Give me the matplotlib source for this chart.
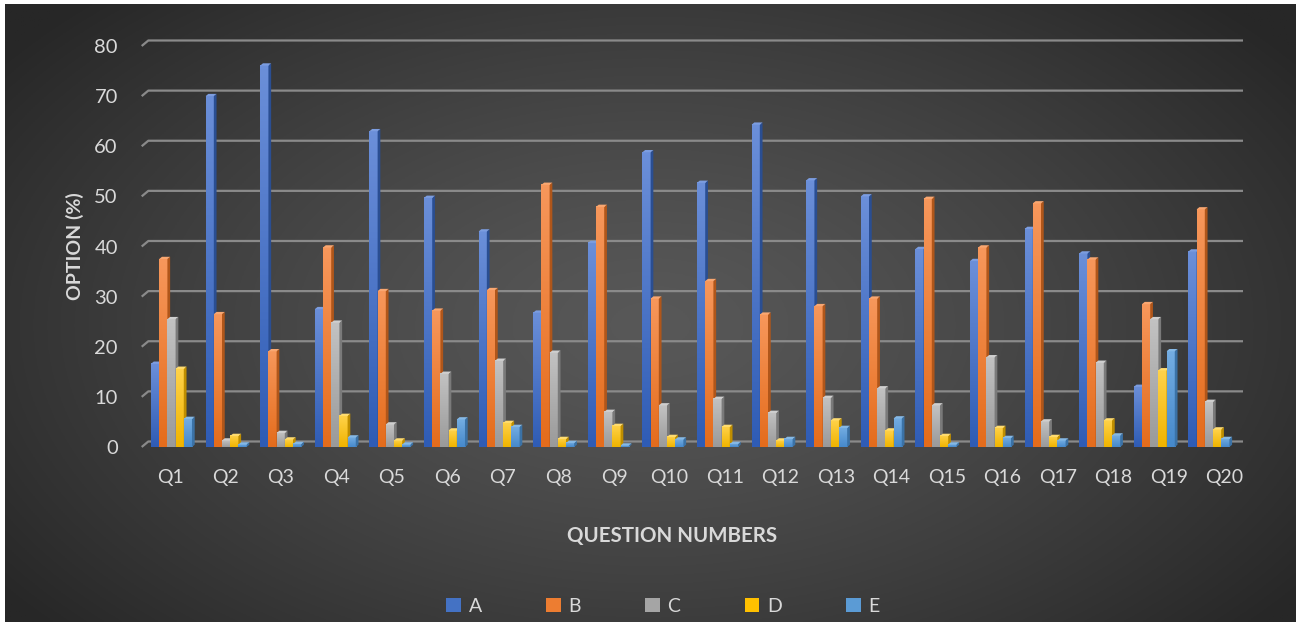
import numpy as np
import matplotlib
matplotlib.use("Agg")
import matplotlib.pyplot as plt
from matplotlib.patches import Polygon, Patch
from matplotlib.colors import LinearSegmentedColormap

plt.rcParams['font.family'] = ['Lato', 'DejaVu Sans']

categories = ["Q1", "Q2", "Q3", "Q4", "Q5", "Q6", "Q7", "Q8", "Q9", "Q10",
              "Q11", "Q12", "Q13", "Q14", "Q15", "Q16", "Q17", "Q18", "Q19", "Q20"]
series_names = ["A", "B", "C", "D", "E"]
A = [16.6, 70.0, 76.1, 27.5, 63.0, 49.7, 43.0, 26.8, 40.7, 58.8, 52.7, 64.3, 53.2, 50.0, 39.5, 37.1, 43.5, 38.6, 12.0, 39.0]
B = [37.5, 26.5, 19.1, 39.8, 31.1, 27.2, 31.3, 52.3, 47.9, 29.6, 33.1, 26.4, 28.1, 29.6, 49.5, 39.8, 48.6, 37.4, 28.5, 47.4]
C = [25.5, 1.3, 2.8, 24.8, 4.5, 14.6, 17.2, 18.8, 7.0, 8.3, 9.6, 6.8, 9.8, 11.7, 8.3, 17.9, 5.1, 16.8, 25.5, 9.0]
D = [15.6, 2.2, 1.5, 6.2, 1.3, 3.3, 4.8, 1.6, 4.2, 2.0, 4.0, 1.3, 5.3, 3.3, 2.2, 3.8, 2.0, 5.3, 15.3, 3.5]
E = [5.6, 0.5, 0.6, 1.9, 0.5, 5.5, 4.0, 0.8, 0.3, 1.5, 0.6, 1.6, 3.8, 5.7, 0.5, 1.8, 1.3, 2.3, 19.1, 1.6]
series = [A, B, C, D, E]
y_ticks = [0, 10, 20, 30, 40, 50, 60, 70, 80]

mid_colors = ["#4472C4", "#ED7D31", "#A5A5A5", "#FFC000", "#5B9BD5"]
top_colors = ["#6b8fd9", "#f7975b", "#c2c2c2", "#ffd24a", "#74ade2"]
bot_colors = ["#2f5cb5", "#e46c1c", "#9a9a9a", "#f0b400", "#4689cb"]
side_colors = ["#2a4e92", "#b0561a", "#7a7a7a", "#bf8e00", "#3b72a6"]
cap_colors = ["#7c9de0", "#f9a771", "#cfcfcf", "#ffdc70", "#86b9e6"]
text_color = "#d9d9d9"

W, H = 1303, 628
fig = plt.figure(figsize=(W / 100, H / 100), dpi=100)
fig.patch.set_facecolor("white")

# background panel with radial gradient
bg = fig.add_axes([5 / W, 6 / H, 1291 / W, 618 / H])
bg.set_axis_off()
bg.set_zorder(-10)
yy, xx = np.mgrid[0:1:300j, 0:1:600j]
r = np.sqrt(((xx - 0.5) / 0.62) ** 2 + ((yy - 0.52) / 0.75) ** 2)
r = np.clip(r, 0, 1)
light = np.array([0x58, 0x58, 0x58]) / 255
dark = np.array([0x27, 0x27, 0x27]) / 255
img = light[None, None, :] * (1 - r[..., None] ** 1.3) + dark[None, None, :] * (r[..., None] ** 1.3)
bg.imshow(img, aspect="auto", extent=[0, 1, 0, 1])
bg.set_xlim(0, 1)
bg.set_ylim(0, 1)

bottom_px, top_px = 447, 46
# label axes (front plane category labels)
ll, lr = 142.25, 1252.25
axl = fig.add_axes([ll / W, (H - bottom_px) / H, (lr - ll) / W, (bottom_px - top_px) / H])
axl.patch.set_alpha(0)
for s in axl.spines.values():
    s.set_visible(False)
# bar (plot) axes
bl, br = 144.2, 1236.2
ax = fig.add_axes([bl / W, (H - bottom_px) / H, (br - bl) / W, (bottom_px - top_px) / H])
ax.patch.set_alpha(0)
for s in ax.spines.values():
    s.set_visible(False)

n = len(categories)
x = np.arange(n)
unit = (br - bl) / n
def px2x(px):
    return (px - bl) / unit - 0.5

gdy = 1.1
for v in y_ticks:
    ax.plot([px2x(141.7), px2x(148.3), px2x(1243)], [v, v + gdy, v + gdy], color="#8a8a8a", lw=1.6,
            zorder=1, solid_capstyle="butt", clip_on=False)

w = 0.15
dx, dy = 0.05, 0.45
for i, vals in enumerate(series):
    cmap = LinearSegmentedColormap.from_list("g%d" % i, [bot_colors[i], top_colors[i]])
    grad = np.linspace(0, 1, 64)[::-1].reshape(-1, 1)
    offs = (i - 2) * w
    z = 3 + i * 0.1
    bars = ax.bar(x + offs, vals, width=w, color=mid_colors[i], zorder=z, linewidth=0)
    for rect in bars:
        x0 = rect.get_x()
        h = rect.get_height()
        ax.imshow(grad, cmap=cmap, extent=[x0, x0 + w, 0, h], aspect="auto", zorder=z + 0.01,
                  interpolation="bilinear")
        side = Polygon([(x0 + w, 0), (x0 + w + dx, dy), (x0 + w + dx, h + dy), (x0 + w, h)],
                       closed=True, facecolor=side_colors[i], edgecolor="none", zorder=z + 0.02)
        cap = Polygon([(x0, h), (x0 + dx, h + dy), (x0 + w + dx, h + dy), (x0 + w, h)],
                      closed=True, facecolor=cap_colors[i], edgecolor="none", zorder=z + 0.02)
        ax.add_patch(side)
        ax.add_patch(cap)

ax.set_xlim(-0.5, n - 0.5)
ax.set_ylim(0, 80)
ax.set_xticks([])
ax.set_yticks(y_ticks)
ax.set_yticklabels([str(v) for v in y_ticks])
ax.tick_params(axis="both", length=0, colors=text_color, labelsize=14.5)
ax.tick_params(axis="y", pad=19)

axl.set_xlim(-0.5, n - 0.5)
axl.set_ylim(0, 80)
axl.set_yticks([])
axl.set_xticks(x)
axl.set_xticklabels(categories)
axl.tick_params(axis="x", length=0, colors=text_color, labelsize=14, pad=16)

fig.text(75 / W, 1 - 246 / H, "OPTION (%)", rotation=90, ha="center", va="center",
         color=text_color, fontsize=14, fontweight="bold")
fig.text(672 / W, 1 - 536 / H, "QUESTION NUMBERS", ha="center", va="center",
         color=text_color, fontsize=14.8, fontweight="bold")

handles = [Patch(facecolor=mid_colors[i], edgecolor="none", label=series_names[i]) for i in range(5)]
leg = fig.legend(handles=handles, loc="center", bbox_to_anchor=(663 / W, 1 - 606 / H), ncol=5,
                 frameon=False, fontsize=14, handlelength=0.75, handleheight=0.75,
                 handletextpad=0.4, columnspacing=3.3)
for t in leg.get_texts():
    t.set_color(text_color)

fig.savefig("out.png", dpi=100, facecolor=fig.get_facecolor())
